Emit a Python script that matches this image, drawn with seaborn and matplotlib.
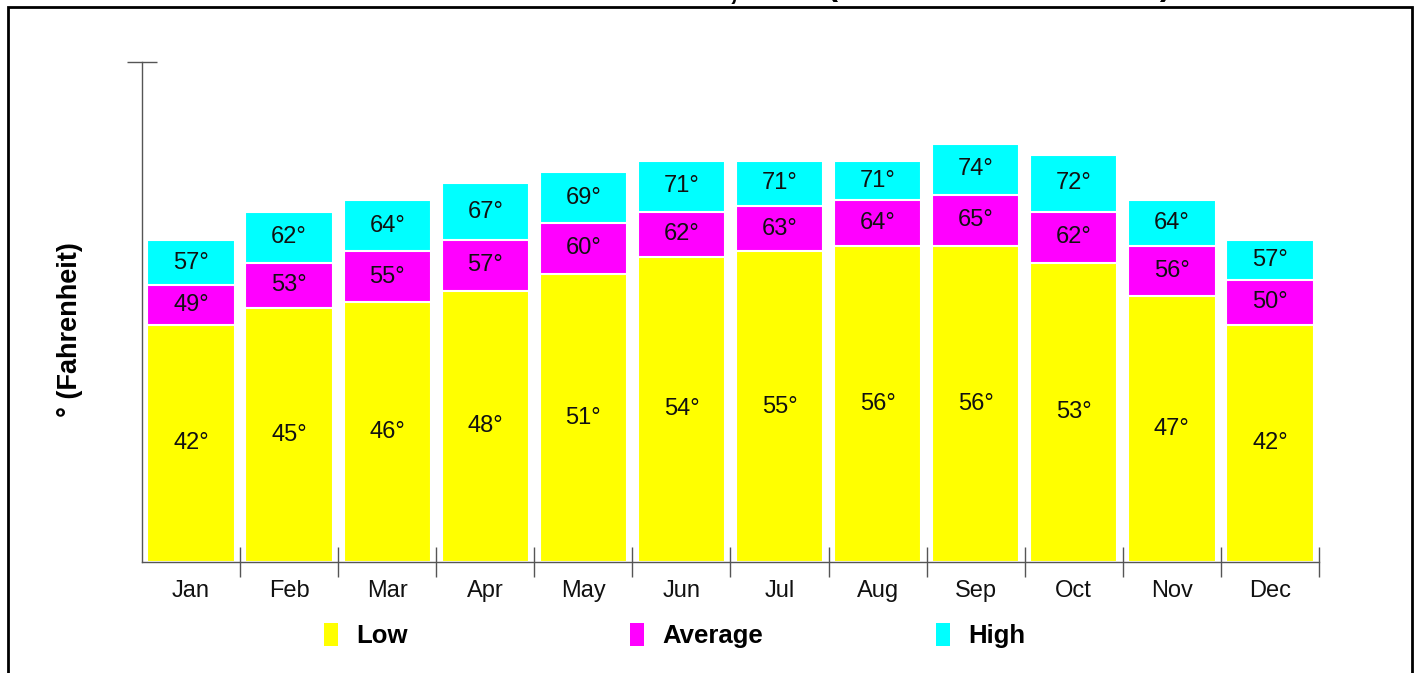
import numpy as np
import pandas as pd
import seaborn as sns
import matplotlib.pyplot as plt
from matplotlib.patches import Rectangle

months = ["Jan", "Feb", "Mar", "Apr", "May", "Jun",
          "Jul", "Aug", "Sep", "Oct", "Nov", "Dec"]
low = [42, 45, 46, 48, 51, 54, 55, 56, 56, 53, 47, 42]
average = [49, 53, 55, 57, 60, 62, 63, 64, 65, 62, 56, 50]
high = [57, 62, 64, 67, 69, 71, 71, 71, 74, 72, 64, 57]
series_names = ["Low", "Average", "High"]
y_label = "° (Fahrenheit)"

colors = {"Low": "#FFFF00", "Average": "#FF00FF", "High": "#00FFFF"}

df = pd.DataFrame({"month": months, "Low": low, "Average": average, "High": high})

sns.set_style("white")
plt.rcParams["font.family"] = ["Liberation Sans", "DejaVu Sans"]
plt.rcParams["text.color"] = "black"

W, H = 1418, 673
fig = plt.figure(figsize=(W / 100, H / 100), dpi=100)

def fx(px):
    return px / W

def fy(py):
    return 1 - py / H

ax = fig.add_axes([fx(142), fy(562), fx(1319) - fx(142), fy(62) - fy(562)])

# overlapping bars, tallest behind
for name in ["High", "Average", "Low"]:
    sns.barplot(data=df, x="month", y=name, color=colors[name], saturation=1,
                width=0.89, edgecolor="white", linewidth=1.5, ax=ax)

ymax = 88.5
ax.set_xlim(-0.5, 11.5)
ax.set_ylim(0, ymax)

# value labels in the middle of each band
for i in range(len(months)):
    mids = [low[i] / 2, (low[i] + average[i]) / 2, (average[i] + high[i]) / 2]
    vals = [low[i], average[i], high[i]]
    for m, v in zip(mids, vals):
        ax.text(i, m, f"{v}°", ha="center", va="center", fontsize=17, color="#111111")

sns.despine(ax=ax)
for side in ["left", "bottom"]:
    ax.spines[side].set_color("#555555")
    ax.spines[side].set_linewidth(1)

ax.set_xlabel("")
ax.set_ylabel("")
ax.set_yticks([ymax])
ax.set_yticklabels([])
ax.tick_params(axis="y", direction="inout", length=22, width=1, color="#555555", left=True)
ax.set_xticks(range(len(months)))
ax.set_xticklabels(months, fontsize=17)
ax.set_xticks(np.arange(0.5, 12, 1), minor=True)
ax.tick_params(axis="x", which="major", length=0, pad=13, labelcolor="#111111")
ax.tick_params(axis="x", which="minor", direction="inout", length=21, width=1,
               color="#555555", bottom=True)

fig.text(fx(70), fy(330), y_label, rotation=90, ha="center", va="center",
         fontsize=19.5, fontweight="bold")

# legend
for name, x0 in zip(series_names, [324, 630, 936]):
    fig.add_artist(Rectangle((fx(x0), fy(646)), fx(14), fy(623) - fy(646),
                             transform=fig.transFigure, color=colors[name], lw=0))
    fig.text(fx(x0 + 32), fy(636), name, ha="left", va="center",
             fontsize=18.5, fontweight="bold")

# frame
fig.add_artist(Rectangle((fx(8), -0.05), fx(1412) - fx(8), fy(7) + 0.05,
                         transform=fig.transFigure, fill=False, edgecolor="black", lw=2))

# clipped title remnants above the frame
for ch, x0, base in [(",", 733, -1.5), ("(", 832, -4.5), (")", 1165, -4.5)]:
    fig.text(fx(x0), fy(base), ch, ha="center", va="baseline",
             fontsize=24, fontweight="bold")

fig.savefig("out.png", dpi=100)
